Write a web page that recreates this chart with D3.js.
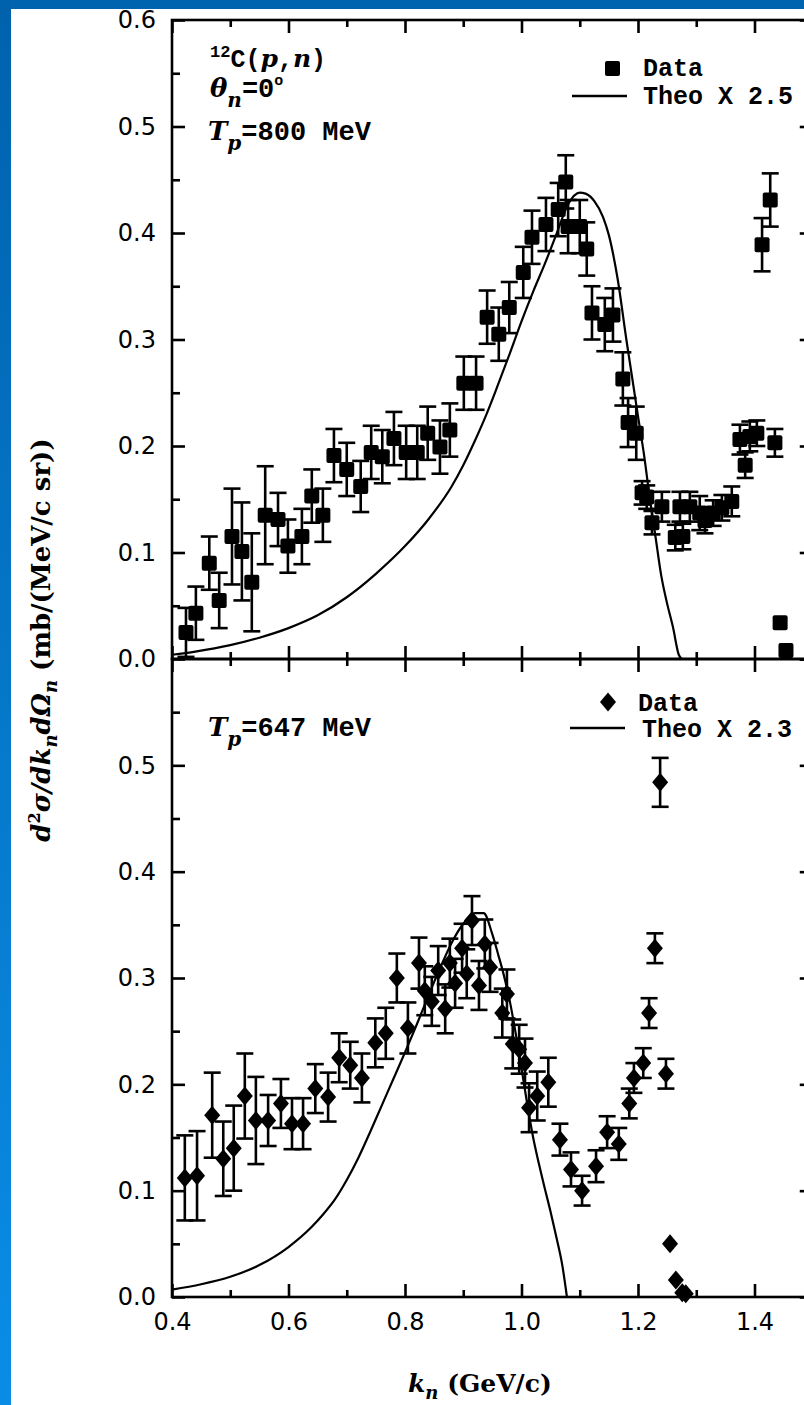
<!DOCTYPE html>
<html><head><meta charset="utf-8">
<script src="https://cdn.jsdelivr.net/npm/d3@7"></script>
<style>body{margin:0;background:#fff}svg{display:block}</style>
</head><body>
<svg id="chart" width="804" height="1405"></svg>
<script>
// ---------- data ----------
const xTickValues = [0.4, 0.6, 0.8, 1.0, 1.2, 1.4];
const xMinorTicks = [0.5, 0.7, 0.9, 1.1, 1.3, 1.5];
const yTickValues = [0.0, 0.1, 0.2, 0.3, 0.4, 0.5, 0.6];
const yMinorTicks = [0.05, 0.15, 0.25, 0.35, 0.45, 0.55];

// Top panel: Tp = 800 MeV (squares)
const topK = [0.424,0.441,0.464,0.481,0.503,0.520,0.537,0.560,0.582,0.599,0.623,0.640,0.659,0.678,0.700,0.724,0.742,0.761,0.781,0.802,0.821,0.839,0.860,0.877,0.901,0.922,0.941,0.961,0.979,1.003,1.018,1.042,1.063,1.076,1.080,1.100,1.112,1.121,1.143,1.157,1.174,1.183,1.197,1.207,1.215,1.224,1.241,1.264,1.277,1.272,1.289,1.306,1.315,1.329,1.344,1.361,1.375,1.384,1.392,1.404,1.435,1.413,1.427,1.444,1.454];
const topV = [0.025,0.043,0.090,0.055,0.115,0.101,0.072,0.135,0.131,0.106,0.115,0.153,0.135,0.191,0.178,0.162,0.194,0.190,0.207,0.194,0.194,0.212,0.199,0.215,0.259,0.259,0.321,0.305,0.330,0.363,0.396,0.408,0.422,0.448,0.406,0.406,0.385,0.325,0.314,0.323,0.263,0.222,0.212,0.156,0.152,0.128,0.143,0.114,0.115,0.143,0.143,0.137,0.130,0.137,0.142,0.148,0.206,0.182,0.209,0.212,0.203,0.389,0.431,0.034,0.008];
const topErr = [0.023,0.025,0.025,0.026,0.045,0.046,0.046,0.046,0.025,0.025,0.026,0.025,0.025,0.025,0.025,0.024,0.025,0.025,0.025,0.025,0.025,0.025,0.025,0.025,0.025,0.025,0.025,0.025,0.024,0.024,0.025,0.025,0.025,0.025,0.025,0.025,0.025,0.025,0.025,0.025,0.025,0.023,0.025,0.011,0.011,0.011,0.014,0.012,0.012,0.014,0.014,0.016,0.012,0.012,0.012,0.014,0.014,0.012,0.014,0.012,0.013,0.025,0.025,0,0];

const theoTopK = [0.40,0.44,0.50,0.55,0.60,0.65,0.70,0.75,0.80,0.84,0.88,0.90,0.92,0.94,0.96,0.98,1.00,1.02,1.04,1.06,1.08,1.10,1.11,1.125,1.14,1.15,1.165,1.18,1.20,1.21,1.22,1.23,1.24,1.25,1.26,1.27,1.275];
const theoTopV = [0.004,0.007,0.013,0.020,0.029,0.041,0.058,0.080,0.106,0.131,0.162,0.182,0.205,0.230,0.258,0.287,0.317,0.345,0.371,0.399,0.427,0.438,0.437,0.430,0.415,0.398,0.357,0.300,0.228,0.193,0.152,0.115,0.078,0.052,0.030,0.004,0.0];

// Bottom panel: Tp = 647 MeV (diamonds)
const botK = [0.422,0.443,0.469,0.488,0.506,0.525,0.544,0.565,0.587,0.606,0.625,0.646,0.668,0.687,0.706,0.726,0.749,0.767,0.786,0.805,0.824,0.834,0.846,0.857,0.869,0.877,0.886,0.898,0.906,0.915,0.927,0.937,0.946,0.967,0.975,0.985,0.996,1.006,1.013,1.027,1.046,1.066,1.085,1.104,1.128,1.147,1.167,1.185,1.193,1.209,1.219,1.229,1.238,1.248,1.255,1.265,1.276,1.282];
const botV = [0.112,0.114,0.171,0.130,0.140,0.189,0.166,0.166,0.182,0.163,0.163,0.196,0.188,0.225,0.218,0.206,0.239,0.248,0.300,0.253,0.314,0.288,0.278,0.307,0.271,0.314,0.295,0.328,0.304,0.354,0.293,0.332,0.310,0.267,0.285,0.238,0.233,0.220,0.178,0.189,0.202,0.148,0.120,0.100,0.123,0.155,0.144,0.182,0.206,0.220,0.267,0.328,0.484,0.210,0.050,0.016,0.004,0.003];
const botErr = [0.040,0.042,0.040,0.035,0.040,0.040,0.041,0.024,0.023,0.024,0.024,0.023,0.023,0.023,0.022,0.023,0.023,0.024,0.023,0.024,0.024,0.023,0.023,0.023,0.023,0.023,0.023,0.023,0.023,0.023,0.023,0.023,0.023,0.023,0.023,0.023,0.023,0.023,0.023,0.023,0.023,0.015,0.016,0.014,0.015,0.015,0.015,0.014,0.014,0.014,0.014,0.014,0.023,0.014,0,0,0,0];

const theoBotK = [0.40,0.45,0.50,0.55,0.60,0.64,0.66,0.68,0.70,0.72,0.74,0.76,0.78,0.80,0.82,0.84,0.86,0.88,0.90,0.92,0.935,0.95,0.96,0.97,0.98,0.99,1.00,1.01,1.02,1.03,1.04,1.05,1.06,1.07,1.078];
const theoBotV = [0.007,0.012,0.019,0.030,0.047,0.066,0.078,0.092,0.110,0.131,0.155,0.180,0.205,0.230,0.256,0.283,0.309,0.333,0.351,0.361,0.361,0.341,0.322,0.302,0.278,0.248,0.215,0.181,0.150,0.125,0.102,0.080,0.056,0.030,0.0];

const legendTop = ["Data", "Theo X 2.5"];
const legendBot = ["Data", "Theo X 2.3"];

// ---------- drawing ----------
const svg = d3.select("#chart");
const x = d3.scaleLinear().domain([0.4, 1.5]).range([172, 812.75]);
const yT = d3.scaleLinear().domain([0, 0.6]).range([659, 20]);
const yB = d3.scaleLinear().domain([0, 0.6]).range([1297, 659]);
const fmt = d3.format(".1f");
const SW = 2.6;

function styleAxis(g, labelSize) {
  g.select(".domain").remove();
  g.selectAll(".tick line").attr("stroke", "#000").attr("stroke-width", SW);
  g.selectAll(".tick text").attr("fill", "#000")
    .style("font-family", "'DejaVu Sans', sans-serif").style("font-size", (labelSize||24) + "px");
}

function panel(y, labelTicks, withXLabels) {
  const g = svg.append("g");
  g.append("g").attr("transform", "translate(172,0)")
    .call(d3.axisLeft(y).tickValues(labelTicks).tickSize(-13).tickPadding(16).tickFormat(fmt))
    .call(a => styleAxis(a));
  g.append("g").attr("transform", "translate(172,0)")
    .call(d3.axisLeft(y).tickValues(yMinorTicks).tickSize(-8).tickFormat(""))
    .call(a => styleAxis(a));
  g.append("g").attr("transform", `translate(${x(1.5)},0)`)
    .call(d3.axisRight(y).tickValues(yTickValues).tickSize(-13).tickFormat(""))
    .call(a => styleAxis(a));
  g.append("g").attr("transform", `translate(${x(1.5)},0)`)
    .call(d3.axisRight(y).tickValues(yMinorTicks).tickSize(-8).tickFormat(""))
    .call(a => styleAxis(a));
  g.append("g").attr("transform", `translate(0,${y(0.6)})`)
    .call(d3.axisTop(x).tickValues(xTickValues).tickSize(-13).tickFormat(""))
    .call(a => styleAxis(a));
  g.append("g").attr("transform", `translate(0,${y(0.6)})`)
    .call(d3.axisTop(x).tickValues(xMinorTicks).tickSize(-7).tickFormat(""))
    .call(a => styleAxis(a));
  g.append("g").attr("transform", `translate(0,${y(0)})`)
    .call(d3.axisBottom(x).tickValues(xTickValues).tickSize(-13).tickPadding(16)
      .tickFormat(withXLabels ? fmt : ""))
    .call(a => styleAxis(a));
  g.append("g").attr("transform", `translate(0,${y(0)})`)
    .call(d3.axisBottom(x).tickValues(xMinorTicks).tickSize(-7).tickFormat(""))
    .call(a => styleAxis(a));
  g.append("rect").attr("x", x(0.4)).attr("y", y(0.6))
    .attr("width", x(1.5) - x(0.4)).attr("height", y(0) - y(0.6))
    .attr("fill", "none").attr("stroke", "#000").attr("stroke-width", SW);
  return g;
}

function theory(y, ks, vs) {
  const line = d3.line().x(d => x(d[0])).y(d => y(d[1])).curve(d3.curveMonotoneX);
  svg.append("path").datum(d3.zip(ks, vs)).attr("d", line)
    .attr("fill", "none").attr("stroke", "#000").attr("stroke-width", 2.2);
}

function errorBars(y, ks, vs, es) {
  const g = svg.append("g").attr("stroke", "#000").attr("stroke-width", SW);
  const data = d3.zip(ks, vs, es).filter(d => d[2] > 0);
  const cap = 8.5;
  g.selectAll(".v").data(data).join("line")
    .attr("x1", d => x(d[0])).attr("x2", d => x(d[0]))
    .attr("y1", d => y(d[1] - d[2])).attr("y2", d => y(d[1] + d[2]));
  g.selectAll(".t").data(data).join("line")
    .attr("x1", d => x(d[0]) - cap).attr("x2", d => x(d[0]) + cap)
    .attr("y1", d => y(d[1] + d[2])).attr("y2", d => y(d[1] + d[2]));
  g.selectAll(".b").data(data).join("line")
    .attr("x1", d => x(d[0]) - cap).attr("x2", d => x(d[0]) + cap)
    .attr("y1", d => y(d[1] - d[2])).attr("y2", d => y(d[1] - d[2]));
}

function squares(y, ks, vs) {
  const s = 15;
  svg.append("g").selectAll("rect").data(d3.zip(ks, vs)).join("rect")
    .attr("x", d => x(d[0]) - s/2).attr("y", d => y(d[1]) - s/2)
    .attr("width", s).attr("height", s).attr("rx", 2).attr("fill", "#000");
}
const diamondPath = (cx, cy) => `M${cx},${cy-9.5}L${cx+8},${cy}L${cx},${cy+9.5}L${cx-8},${cy}Z`;
function diamonds(y, ks, vs) {
  svg.append("g").selectAll("path").data(d3.zip(ks, vs)).join("path")
    .attr("d", d => diamondPath(x(d[0]), y(d[1]))).attr("fill", "#000");
}

panel(yT, yTickValues, false);
panel(yB, yTickValues.slice(0, 6), true);

theory(yT, theoTopK, theoTopV);
errorBars(yT, topK, topV, topErr);
squares(yT, topK, topV);

theory(yB, theoBotK, theoBotV);
errorBars(yB, botK, botV, botErr);
diamonds(yB, botK, botV);

// ---------- legends ----------
const mono = "'Liberation Mono', 'Courier New', monospace";
const serif = "'DejaVu Serif', serif";
function legendText(xp, yp, t) {
  svg.append("text").attr("x", xp).attr("y", yp).text(t)
    .style("font-family", mono).style("font-weight", "bold").style("font-size", "25px");
}
svg.append("rect").attr("x", 605).attr("y", 61).attr("width", 15).attr("height", 15).attr("rx", 2).attr("fill", "#000");
legendText(643, 76, legendTop[0]);
svg.append("line").attr("x1", 572).attr("x2", 627).attr("y1", 96).attr("y2", 96).attr("stroke", "#000").attr("stroke-width", 2.4);
legendText(643, 104, legendTop[1]);

svg.append("path").attr("d", diamondPath(608, 702)).attr("fill", "#000");
legendText(638, 711, legendBot[0]);
svg.append("line").attr("x1", 570).attr("x2", 625).attr("y1", 728).attr("y2", 728).attr("stroke", "#000").attr("stroke-width", 2.4);
legendText(642, 737, legendBot[1]);

// ---------- annotations ----------
function richText(xp, yp, parts) {
  const t = svg.append("text").attr("x", xp).attr("y", yp);
  parts.forEach(p => {
    const ts = t.append("tspan").text(p.t)
      .style("font-family", p.f || mono).style("font-size", (p.s || 26) + "px")
      .style("font-weight", p.w || "bold").style("font-style", p.i ? "italic" : "normal");
    if (p.dy) ts.attr("dy", p.dy);
  });
  return t;
}
richText(210, 67, [
  {t: "12", s: 17, dy: -10},
  {t: "C(", s: 25, dy: 10},
  {t: "p", f: serif, i: true, s: 25},
  {t: ",", s: 25},
  {t: "n", f: serif, i: true, s: 25},
  {t: ")", s: 25}
]);
richText(210, 97, [
  {t: "θ", f: serif, i: true, s: 26},
  {t: "n", f: serif, i: true, s: 20, dy: 10},
  {t: "=0", s: 27, dy: -10},
  {t: "o", s: 15, dy: -12},
]);
richText(208, 140, [
  {t: "T", f: serif, i: true, s: 26},
  {t: "p", f: serif, i: true, s: 20, dy: 10},
  {t: "=800 MeV", s: 27, dy: -10}
]);
richText(208, 736, [
  {t: "T", f: serif, i: true, s: 26},
  {t: "p", f: serif, i: true, s: 20, dy: 10},
  {t: "=647 MeV", s: 27, dy: -10}
]);

// ---------- axis titles ----------
const xl = svg.append("text").attr("x", 408).attr("y", 1392).style("font-family", serif)
  .style("font-size", "25px").style("font-weight", "bold");
xl.append("tspan").text("k").style("font-style", "italic");
xl.append("tspan").text("n").style("font-style", "italic").style("font-size", "18px").attr("dy", 7);
xl.append("tspan").text(" (GeV/c)").attr("dy", -7);

const yl = svg.append("text").attr("transform", "translate(50,640) rotate(-90)")
  .attr("text-anchor", "middle").style("font-family", serif).style("font-size", "26px")
  .style("font-weight", "bold");
yl.append("tspan").text("d").style("font-style", "italic");
yl.append("tspan").text("2").style("font-size", "16px").attr("dy", -10);
yl.append("tspan").text("σ/dk").style("font-style", "italic").attr("dy", 10);
yl.append("tspan").text("n").style("font-style", "italic").style("font-size", "18px").attr("dy", 7);
yl.append("tspan").text("dΩ").style("font-style", "italic").attr("dy", -7);
yl.append("tspan").text("n").style("font-style", "italic").style("font-size", "18px").attr("dy", 7);
yl.append("tspan").text("  (mb/(MeV/c sr))").attr("dy", -7);

// ---------- blue frame ----------
const defs = svg.append("defs");
const grad = defs.append("linearGradient").attr("id", "lg").attr("x1", 0).attr("y1", 0).attr("x2", 0).attr("y2", 1);
grad.append("stop").attr("offset", "0%").attr("stop-color", "#0062ad");
grad.append("stop").attr("offset", "100%").attr("stop-color", "#0a8de6");
svg.append("rect").attr("x", 0).attr("y", 0).attr("width", 804).attr("height", 9).attr("fill", "#0064ae");
svg.append("rect").attr("x", 0).attr("y", 0).attr("width", 11).attr("height", 1405).attr("fill", "url(#lg)");
</script>
</body></html>
